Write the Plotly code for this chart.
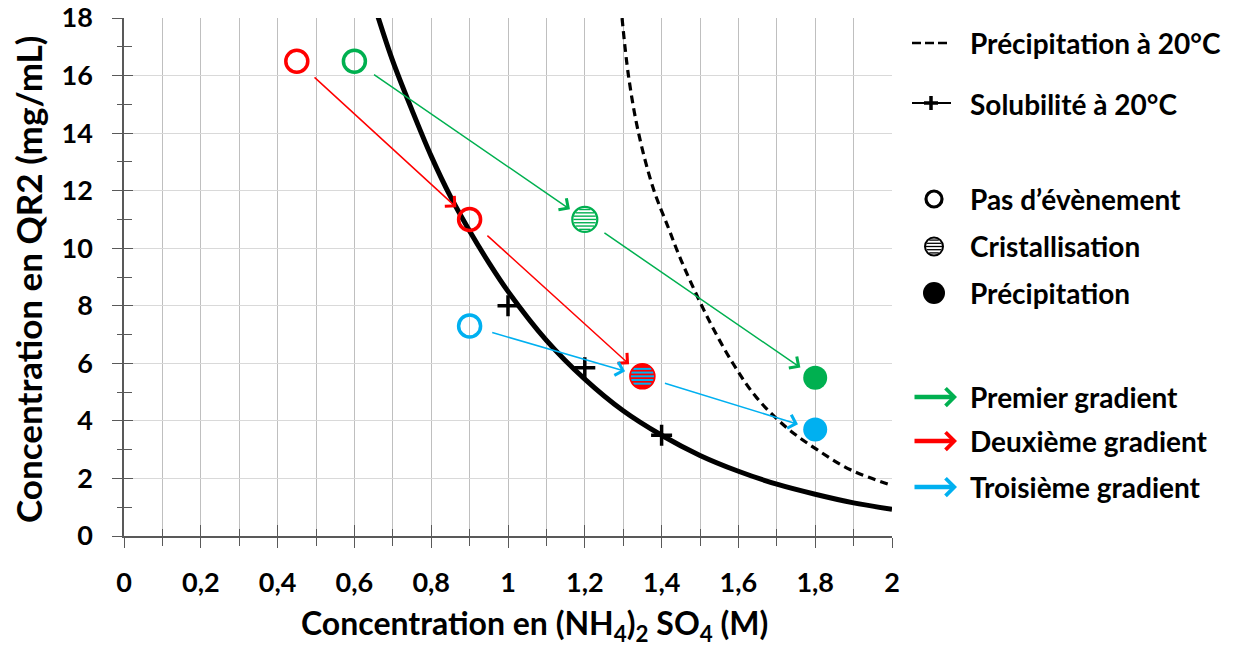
import math
import plotly.graph_objects as go

# ---------------- DATA ----------------
sol_curve_x = [0.66, 0.7, 0.75, 0.8, 0.85, 0.9, 0.95, 1.0, 1.1, 1.2, 1.3, 1.4, 1.5, 1.6, 1.7, 1.8, 1.9, 2.0]
sol_curve_y = [18.1, 16.5, 14.8, 13.2, 11.8, 10.6, 9.5, 8.5, 6.8, 5.45, 4.35, 3.5, 2.8, 2.25, 1.8, 1.45, 1.15, 0.93]
sol_pts_x = [1.0, 1.2, 1.4]
sol_pts_y = [8.0, 5.85, 3.5]

prec_curve_x = [1.297, 1.314, 1.34, 1.379, 1.418, 1.444, 1.475, 1.527, 1.588, 1.648, 1.727, 1.805, 1.892, 2.0]
prec_curve_y = [18.0, 15.97, 14.0, 12.05, 10.7, 9.8, 8.85, 7.4, 5.95, 4.8, 3.75, 3.0, 2.3, 1.76]

grad_names = ["Premier gradient", "Deuxième gradient", "Troisième gradient"]
grad_colors = ["#00B050", "#FF0000", "#00B0F0"]
g1_x = [0.6, 1.2, 1.8]
g1_y = [16.5, 11.0, 5.5]
g1_evt = ["aucun", "cristal", "precip"]
g2_x = [0.45, 0.9, 1.35]
g2_y = [16.5, 11.0, 5.55]
g2_evt = ["aucun", "aucun", "cristal"]
g3_x = [0.9, 1.35, 1.8]
g3_y = [7.3, 5.55, 3.7]
g3_evt = ["aucun", "cristal", "precip"]

x_ticks = [0, 0.2, 0.4, 0.6, 0.8, 1, 1.2, 1.4, 1.6, 1.8, 2]
y_ticks = [0, 2, 4, 6, 8, 10, 12, 14, 16, 18]

legend_lines = ["Précipitation à 20°C", "Solubilité à 20°C"]
legend_events = ["Pas d’évènement", "Cristallisation", "Précipitation"]

x_title = "Concentration en (NH<sub>4</sub>)<sub>2</sub> SO<sub>4</sub> (M)"
y_title = "Concentration en QR2 (mg/mL)"

# ---------------- LAYOUT GEOMETRY ----------------
W, H = 1234, 645
L, R, T, B = 124, 342, 18, 109
PW, PH = W - L - R, H - T - B
FONT = "Lato, sans-serif"
AXC = "#595959"


def px(xp):
    return (xp - L) / PW


def py(yp):
    return (H - B - yp) / PH


fig = go.Figure()

# curves
fig.add_trace(go.Scatter(x=sol_curve_x, y=sol_curve_y, mode="lines",
                         line=dict(color="black", width=5, shape="spline"),
                         showlegend=False, hoverinfo="skip"))
fig.add_trace(go.Scatter(x=prec_curve_x, y=prec_curve_y, mode="lines",
                         line=dict(color="black", width=3.2, shape="spline", dash="8px,5px"),
                         showlegend=False, hoverinfo="skip"))
fig.add_trace(go.Scatter(x=sol_pts_x, y=sol_pts_y, mode="markers",
                         marker=dict(symbol="cross-thin", size=15, color="black",
                                     line=dict(width=3.5, color="black")),
                         showlegend=False))

gradients = [(g1_x, g1_y, g1_evt), (g2_x, g2_y, g2_evt), (g3_x, g3_y, g3_evt)]

shapes = []


def striped(xref, yref, xa, ya, r, edge, fill, stripe, n, gap, sw, ew):
    shapes.append(dict(type="circle", xref=xref, yref=yref, xsizemode="pixel", ysizemode="pixel",
                       xanchor=xa, yanchor=ya, x0=-r, x1=r, y0=-r, y1=r,
                       fillcolor=fill, line=dict(width=0), layer="above"))
    for k in range(n):
        dy = (k - (n - 1) / 2) * gap
        rr = r - ew / 2
        if abs(dy) >= rr:
            continue
        hw = math.sqrt(rr ** 2 - dy ** 2)
        shapes.append(dict(type="line", xref=xref, yref=yref, xsizemode="pixel", ysizemode="pixel",
                           xanchor=xa, yanchor=ya, x0=-hw, x1=hw, y0=dy, y1=dy,
                           line=dict(color=stripe, width=sw), layer="above"))
    shapes.append(dict(type="circle", xref=xref, yref=yref, xsizemode="pixel", ysizemode="pixel",
                       xanchor=xa, yanchor=ya, x0=-r, x1=r, y0=-r, y1=r,
                       fillcolor="rgba(0,0,0,0)", line=dict(color=edge, width=ew), layer="above"))


# markers per event
cryst = {}
for gi, (gx, gy, ge) in enumerate(gradients):
    col = grad_colors[gi]
    ox = [x for x, e in zip(gx, ge) if e == "aucun"]
    oy = [y for y, e in zip(gy, ge) if e == "aucun"]
    fig.add_trace(go.Scatter(x=ox, y=oy, mode="markers",
                             marker=dict(symbol="circle-open", size=22, color=col, line=dict(width=3.5)),
                             showlegend=False))
    fx = [x for x, e in zip(gx, ge) if e == "precip"]
    fy = [y for y, e in zip(gy, ge) if e == "precip"]
    fig.add_trace(go.Scatter(x=fx, y=fy, mode="markers",
                             marker=dict(symbol="circle", size=24, color=col, line=dict(width=0)),
                             showlegend=False))
    for x, y, e in zip(gx, gy, ge):
        if e == "cristal":
            cryst.setdefault((x, y), []).append(col)

for (x, y), cols in cryst.items():
    if len(cols) == 1:
        striped("x", "y", x, y, 12.5, cols[0], "white", cols[0], 7, 3.3, 1.4, 2.2)
    else:
        striped("x", "y", x, y, 12.5, cols[0], cols[0], cols[1], 5, 3.7, 2.0, 1.5)

# arrows between successive points of each gradient
annotations = []
for gi, (gx, gy, ge) in enumerate(gradients):
    for i in range(len(gx) - 1):
        annotations.append(dict(x=gx[i + 1], y=gy[i + 1], ax=gx[i], ay=gy[i],
                                xref="x", yref="y", axref="x", ayref="y", text="",
                                showarrow=True, arrowhead=4, arrowsize=1.8, arrowwidth=1.5,
                                arrowcolor=grad_colors[gi], standoff=18, startstandoff=22))

# axis titles
annotations.append(dict(text=x_title, x=px(534), y=py(625), xref="paper", yref="paper",
                        showarrow=False, xanchor="center", yanchor="middle",
                        font=dict(family=FONT, size=32, color="black", weight="bold")))
annotations.append(dict(text=y_title, x=px(28), y=py(280), xref="paper", yref="paper",
                        showarrow=False, xanchor="center", yanchor="middle", textangle=-90,
                        font=dict(family=FONT, size=35, color="black", weight="bold")))

# ---------------- custom legend ----------------
LF = dict(family=FONT, size=28, color="black", weight="bold")
TX = px(968)
leg_y = [43, 104]
for txt, yy in zip(legend_lines, leg_y):
    annotations.append(dict(text=txt, x=TX, y=py(yy), xref="paper", yref="paper", showarrow=False,
                            xanchor="left", yanchor="middle", font=LF))
# dashed sample
shapes.append(dict(type="line", xref="paper", yref="paper", x0=px(912), x1=px(949), y0=py(43), y1=py(43),
                   line=dict(color="black", width=2.5, dash="9px,4px")))
# solubility sample
shapes.append(dict(type="line", xref="paper", yref="paper", x0=px(912), x1=px(951), y0=py(103), y1=py(103),
                   line=dict(color="black", width=2)))
shapes.append(dict(type="line", xref="paper", yref="paper", xsizemode="pixel", ysizemode="pixel",
                   xanchor=px(931), yanchor=py(103), x0=-7, x1=7, y0=0, y1=0,
                   line=dict(color="black", width=3.5)))
shapes.append(dict(type="line", xref="paper", yref="paper", xsizemode="pixel", ysizemode="pixel",
                   xanchor=px(931), yanchor=py(103), x0=0, x1=0, y0=-7, y1=7,
                   line=dict(color="black", width=3.5)))

ev_y = [199, 246, 293]
for txt, yy in zip(legend_events, ev_y):
    annotations.append(dict(text=txt, x=TX, y=py(yy), xref="paper", yref="paper", showarrow=False,
                            xanchor="left", yanchor="middle", font=LF))
# open circle
shapes.append(dict(type="circle", xref="paper", yref="paper", xsizemode="pixel", ysizemode="pixel",
                   xanchor=px(934), yanchor=py(199), x0=-8, x1=8, y0=-8, y1=8,
                   line=dict(color="black", width=3.2), fillcolor="white"))
# striped
striped("paper", "paper", px(934), py(246.5), 9, "black", "white", "black", 5, 3.2, 1.3, 2)
# filled
shapes.append(dict(type="circle", xref="paper", yref="paper", xsizemode="pixel", ysizemode="pixel",
                   xanchor=px(934), yanchor=py(293), x0=-11, x1=11, y0=-11, y1=11,
                   line=dict(width=0), fillcolor="black"))

gr_y = [397, 441, 487]
for gi, (txt, yy) in enumerate(zip(grad_names, gr_y)):
    annotations.append(dict(text=txt, x=TX, y=py(yy), xref="paper", yref="paper", showarrow=False,
                            xanchor="left", yanchor="middle", font=LF))
    annotations.append(dict(x=px(957), y=py(yy), ax=-44, ay=0, xref="paper", yref="paper", text="",
                            showarrow=True, arrowhead=4, arrowsize=0.75, arrowwidth=4.5,
                            arrowcolor=grad_colors[gi]))

# overlay axes for the inner half of the crossing tick marks
fig.add_trace(go.Scatter(x=[None], y=[None], xaxis="x2", yaxis="y2", showlegend=False))

TF = dict(family=FONT, size=27, color="black", weight="bold")
fig.update_layout(
    width=W, height=H,
    margin=dict(l=L, r=R, t=T, b=B, autoexpand=False),
    paper_bgcolor="white", plot_bgcolor="white",
    separators=", ",
    showlegend=False,
    xaxis=dict(range=[0, 2], tickmode="array", tickvals=x_ticks, showgrid=True, gridcolor="#BFBFBF",
               gridwidth=1, zeroline=False, showline=True, linecolor=AXC, linewidth=1.5,
               ticks="outside", ticklen=10, tickwidth=1.3, tickcolor=AXC, tickfont=TF,
               ticklabelstandoff=12, automargin=False,
               minor=dict(dtick=0.1, tick0=0, showgrid=True, gridcolor="#BFBFBF", gridwidth=1,
                          ticks="outside", ticklen=8, tickwidth=1.3, tickcolor=AXC)),
    yaxis=dict(range=[0, 18], tickmode="array", tickvals=y_ticks, showgrid=True, gridcolor="#D9D9D9",
               gridwidth=1, zeroline=False, showline=True, linecolor=AXC, linewidth=1.5,
               ticks="outside", ticklen=10, tickwidth=1.3, tickcolor=AXC, tickfont=TF,
               ticklabelstandoff=14, automargin=False,
               minor=dict(dtick=1, tick0=0, showgrid=False, ticks="outside", ticklen=5,
                          tickwidth=1.3, tickcolor=AXC)),
    xaxis2=dict(range=[0, 2], overlaying="x", anchor="y2", tickmode="array", tickvals=x_ticks,
                showgrid=False, zeroline=False, showline=False, showticklabels=False, automargin=False,
                ticks="inside", ticklen=11, tickwidth=1.3, tickcolor=AXC,
                minor=dict(dtick=0.1, tick0=0, showgrid=False, ticks="inside", ticklen=7,
                           tickwidth=1.3, tickcolor=AXC)),
    yaxis2=dict(range=[0, 18], overlaying="y", anchor="x2", tickmode="array", tickvals=y_ticks,
                showgrid=False, zeroline=False, showline=False, showticklabels=False, automargin=False,
                ticks="inside", ticklen=9, tickwidth=1.3, tickcolor=AXC,
                minor=dict(dtick=1, tick0=0, showgrid=False, ticks="inside", ticklen=8,
                           tickwidth=1.3, tickcolor=AXC)),
    shapes=shapes,
    annotations=annotations,
)

fig.write_html("out.html", config={"displayModeBar": False},
               post_script="document.body.style.margin='0';document.body.style.overflow='hidden';")
